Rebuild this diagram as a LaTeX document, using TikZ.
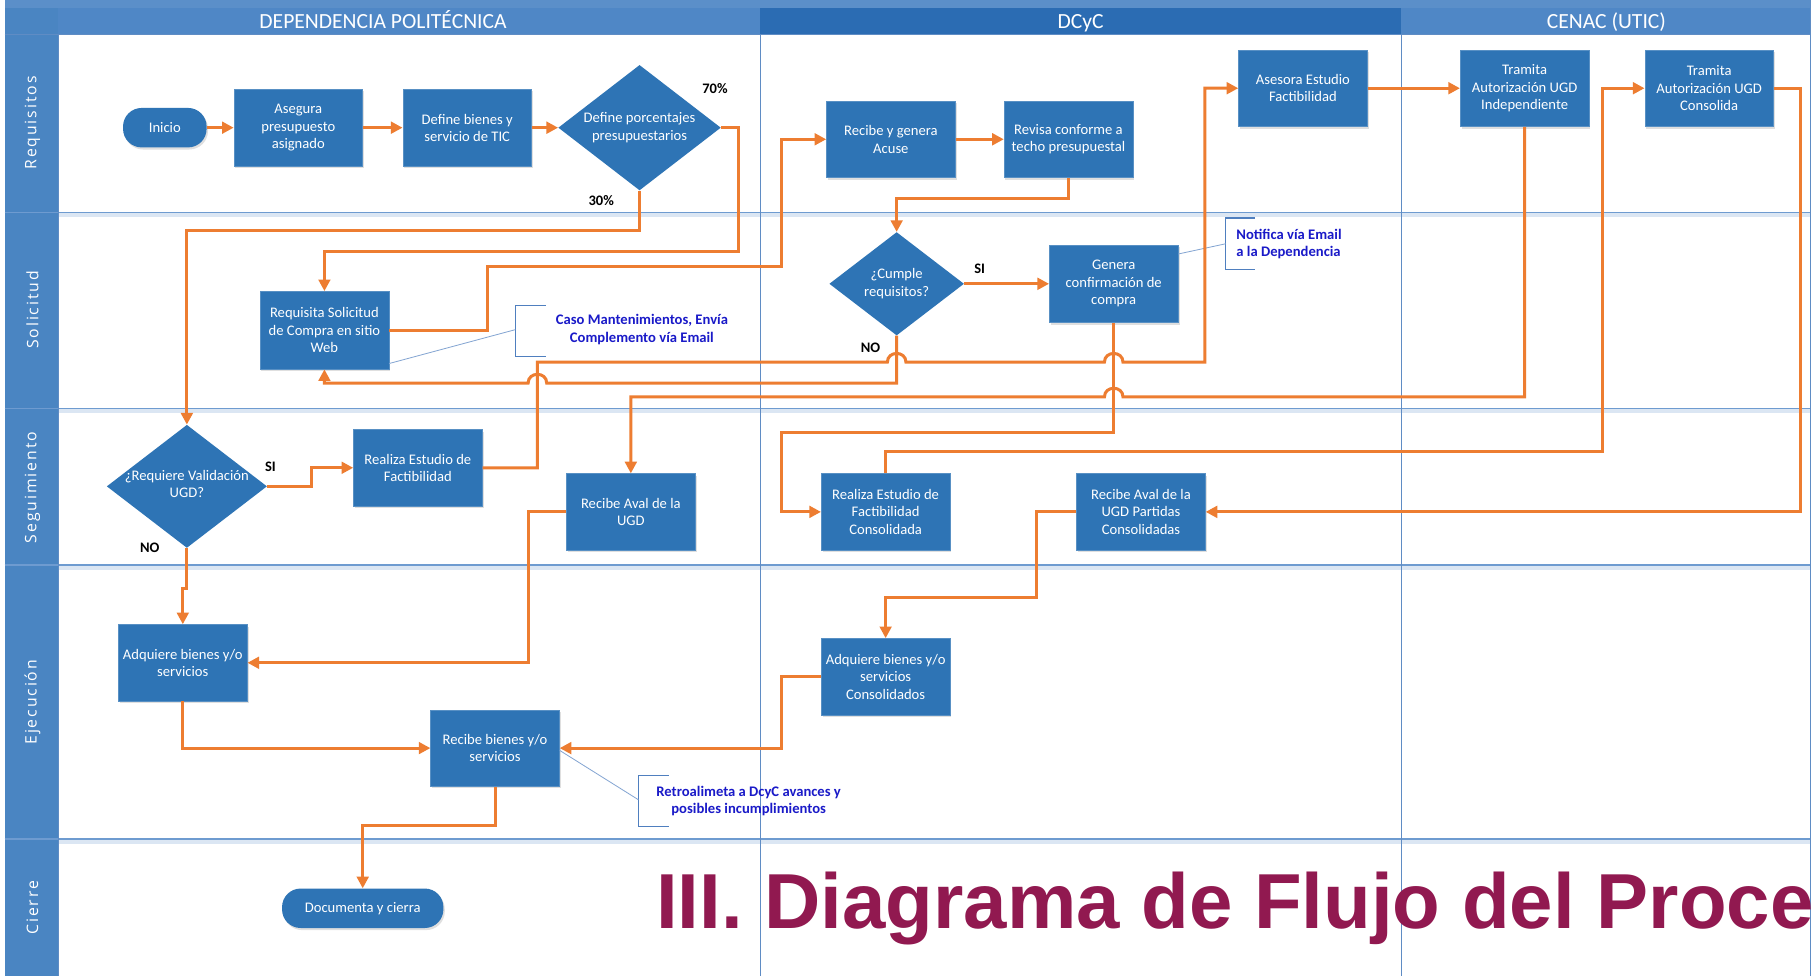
\documentclass[tikz,border=0pt]{standalone}
\usepackage{fontspec}
\setmainfont{Carlito}
\newfontfamily\lanefont[LetterSpace=12]{Open Sans}
\newfontfamily\titlefont{Liberation Sans}
\usetikzlibrary{arrows.meta,shapes.geometric,shadows,calc}
\definecolor{boxblue}{HTML}{2E74B5}
\definecolor{hdrlight}{HTML}{4F87C6}
\definecolor{hdrdark}{HTML}{2B6CB3}
\definecolor{topband}{HTML}{5B8FC9}
\definecolor{laneblue}{HTML}{4A85C2}
\definecolor{flowor}{HTML}{ED7D31}
\definecolor{notetext}{HTML}{1A1AC8}
\definecolor{titlered}{HTML}{911950}
\definecolor{sepline}{HTML}{6E9BD0}
\definecolor{colline}{HTML}{5F8CC4}
\definecolor{bracketc}{HTML}{4F7FBF}
\tikzset{
  proc/.style={rectangle, fill=boxblue, draw=boxblue!80!white, line width=0.4pt,
    minimum width=111pt, minimum height=66pt, inner sep=2pt, align=center,
    text=white, font=\fontsize{12.6}{15}\selectfont,
    drop shadow={shadow xshift=1.2pt, shadow yshift=-1.8pt, opacity=0.25}},
  term/.style={rectangle, rounded corners=16pt, fill=boxblue, minimum height=34pt,
    inner sep=2pt, align=center, text=white, font=\fontsize{12.6}{15}\selectfont,
    drop shadow={shadow xshift=1.2pt, shadow yshift=-1.8pt, opacity=0.25}},
  dec/.style={diamond, fill=boxblue, inner sep=0pt},
  dectext/.style={align=center, text=white, inner sep=0pt, font=\fontsize{12.6}{15}\selectfont},
  flow/.style={draw=flowor, line width=2.6pt, -{Triangle[length=10pt,width=10pt]}},
  lbl/.style={font=\bfseries\fontsize{12.5}{14}\selectfont, text=black, inner sep=0pt},
  note/.style={font=\bfseries\fontsize{12.6}{15}\selectfont, text=notetext, inner sep=0pt},
  bracket/.style={draw=bracketc, line width=1.3pt},
  leader/.style={draw=bracketc!70!white, line width=0.7pt},
  lanelbl/.style={rotate=90, text=white, font=\lanefont\fontsize{13.6}{15}\selectfont},
  hdr/.style={text=white, anchor=base, font=\fontsize{18.6}{20}\selectfont},
}
\begin{document}
\begin{tikzpicture}[x=1pt,y=-1pt]
\useasboundingbox (0,0) rectangle (1568,841);
\fill[white] (0,0) rectangle (1568,841);
% frame / bands
\fill[topband] (4,0) rectangle (1560,7);
\fill[laneblue] (4,7) rectangle (50,841);
\fill[hdrlight] (50,7) rectangle (655,29);
\fill[hdrdark] (655,7) rectangle (1207,29);
\fill[hdrlight] (1207,7) rectangle (1560,29);
\draw[colline, line width=0.8pt] (4,29.5) -- (1560,29.5);
\node[hdr] (hdep) at (330,24.5) {DEPENDENCIA POLITÉCNICA};
\node[hdr] (hdcyc) at (931,24.5) {DCyC};
\node[hdr] (hcenac) at (1384,24.5) {CENAC (UTIC)};
% lane separators
\foreach \yy in {183,352,487,723}{
  \fill[sepline!25!white] (50,\yy) rectangle (1560,\yy+4);
  \draw[sepline, line width=1.4pt] (4,\yy) -- (1560,\yy);
}
\draw[colline, line width=0.6pt] (655,29) -- (655,841);
\draw[colline, line width=0.6pt] (1207,29) -- (1207,841);
\draw[colline, line width=0.8pt] (1560,0) -- (1560,841);
\draw[colline, line width=0.6pt] (50,29) -- (50,841);
% lane labels
\node[lanelbl] (lreq) at (28,106) {Requisitos};
\node[lanelbl] (lsol) at (28,267) {Solicitud};
\node[lanelbl] (lseg) at (28,420) {Seguimiento};
\node[lanelbl] (leje) at (28,605) {Ejecución};
\node[lanelbl] (lcie) at (28,782) {Cierre};

% nodes - Requisitos
\node[term, minimum width=72pt] (inicio) at (142,110) {Inicio};
\node[proc] (asegura) at (257,110) {Asegura\\presupuesto\\asignado};
\node[proc] (defb) at (402.5,110) {Define bienes y\\servicio de TIC};
\node[dec, minimum width=140pt, minimum height=108pt] (dpct) at (551,110) {};
\node[dectext] (dpcttxt) at (dpct.center) {Define porcentajes\\presupuestarios};
\node[proc] (recibe) at (767.5,120) {Recibe y genera\\Acuse};
\node[proc] (revisa) at (920.5,120) {Revisa conforme a\\techo presupuestal};
\node[proc] (asesora) at (1122.5,76) {Asesora Estudio\\Factibilidad};
\node[proc] (trami) at (1313.5,76) {Tramita\\Autorización UGD\\Independiente};
\node[proc] (tramc) at (1472.5,76) {Tramita\\Autorización UGD\\Consolida};
% Solicitud
\node[proc, minimum height=67pt] (req) at (279.5,284.5) {Requisita Solicitud\\de Compra en sitio\\Web};
\node[dec, minimum width=116pt, minimum height=89pt] (cumple) at (772.5,244.5) {};
\node[dectext] (cumpletxt) at (cumple.center) {¿Cumple\\requisitos?};
\node[proc, minimum height=67pt] (genera) at (959.5,244.5) {Genera\\confirmación de\\compra};
% Seguimiento
\node[dec, minimum width=138pt, minimum height=106pt] (dreq) at (161,419) {};
\node[dectext] (dreqtxt) at (161,417) {¿Requiere Validación\\UGD?};
\node[proc] (realiza) at (360,403) {Realiza Estudio de\\Factibilidad};
\node[proc] (aval) at (543.5,441) {Recibe Aval de la\\UGD};
\node[proc] (realc) at (763,441) {Realiza Estudio de\\Factibilidad\\Consolidada};
\node[proc] (avalp) at (983,441) {Recibe Aval de la\\UGD Partidas\\Consolidadas};
% Ejecucion
\node[proc] (adq) at (157.5,571) {Adquiere bienes y/o\\servicios};
\node[proc] (recb) at (426.5,644.5) {Recibe bienes y/o\\servicios};
\node[proc] (adqc) at (763,583) {Adquiere bienes y/o\\servicios\\Consolidados};
% Cierre
\node[term, minimum width=139pt] (doc) at (312.5,782.5) {Documenta y cierra};

% labels
\node[lbl] (l70) at (616,76) {70\%};
\node[lbl] (l30) at (518,173) {30\%};
\node[lbl] (lsi1) at (844,232) {SI};
\node[lbl] (lno1) at (750,300) {NO};
\node[lbl] (lsi2) at (233,402) {SI};
\node[lbl] (lno2) at (129,472) {NO};

% annotations
\coordinate (brN) at (1056,188);
\draw[bracket] ($(brN)+(25,0)$) -- (brN) -- ++(0,44) -- ++(25,0);
\node[note, anchor=west, align=left] (noteN) at (1065,210) {Notifica vía Email\\a la Dependencia};
\draw[leader] (genera.north east) ++(0,8) -- (1056,210);

\coordinate (brC) at (444,263);
\draw[bracket] ($(brC)+(26,0)$) -- (brC) -- ++(0,44) -- ++(26,0);
\node[note, align=center] (noteC) at (553,284) {Caso Mantenimientos, Envía\\Complemento vía Email};
\draw[leader] (req.south east) ++(0,-5) -- (444,284);

\coordinate (brR) at (550,668);
\draw[bracket] ($(brR)+(26,0)$) -- (brR) -- ++(0,44) -- ++(26,0);
\node[note, align=center] (noteR) at (645,690) {Retroalimeta a DcyC avances y\\posibles incumplimientos};
\draw[leader] (recb.east) ++(0,2) -- (550,689);

% connectors
\draw[flow] (inicio.east) -- (asegura.west);
\draw[flow] (asegura.east) -- (defb.west);
\draw[flow] (defb.east) -- (dpct.west);
\draw[flow] (dpct.east) -- (636,110) -- (636,217) -| (req.north);
\draw[flow] (dpct.south) -- (551,199) -| (dreq.north);
\draw[flow] (req.east) -- (420,284.5) -- (420,230) -- (673,230) |- (recibe.west);
\draw[flow] (recibe.east) -- (revisa.west);
\draw[flow] (revisa.south) -- (920.5,171) -| (cumple.north);
\draw[flow] (cumple.east) -- (genera.west);
\draw[flow] (cumple.south) -- (772.5,330) -- (471,330) .. controls (471,320) and (455,320) .. (455,330) -| (req.south);
\draw[flow] (realiza.east) -- (463,403) -- (463,312) -- (764.5,312) .. controls (764.5,302) and (780.5,302) .. (780.5,312) -- (951.5,312) .. controls (951.5,302) and (967.5,302) .. (967.5,312) -- (1038,312) |- (asesora.west);
\draw[flow] (genera.south) -- (959.5,373) -- (673,373) |- (realc.west);
\draw[flow] (realc.north) -- (763,389) -- (1381,389) |- (tramc.west);
\draw[flow] (asesora.east) -- (trami.west);
\draw[flow] (tramc.east) -- (1551,76) |- (avalp.east);
\draw[flow] (avalp.west) -- (893,441) -- (893,515) -| (adqc.north);
\draw[flow] (adqc.west) -- (673,583) |- (recb.east);
\draw[flow] (trami.south) -- (1313.5,342) -- (967.5,342) .. controls (967.5,332) and (951.5,332) .. (951.5,342) -- (543.5,342) -- (aval.north);
\draw[flow] (aval.west) -- (455,441) |- (adq.east);
\draw[flow] (dreq.south) -- (161,507) -- (157.5,507) -- (adq.north);
\draw[flow] (dreq.east) -- (268,419) |- (realiza.west);
\draw[flow] (adq.south) |- (recb.west);
\draw[flow] (recb.south) -- (426.5,711) -| (doc.north);

% title
\node[anchor=base west, inner sep=0pt, text=titlered, font=\titlefont\bfseries\fontsize{67.2}{70}\selectfont] (title) at (565,800) {III. Diagrama de Flujo del Proce};
\end{tikzpicture}
\end{document}
